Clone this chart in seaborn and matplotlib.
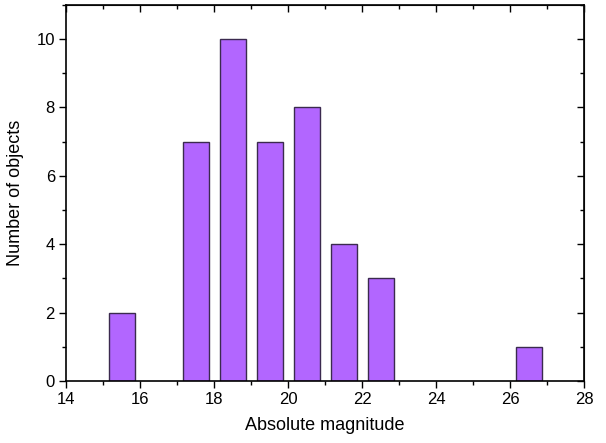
import matplotlib
matplotlib.use("Agg")
import matplotlib.pyplot as plt
import seaborn as sns
from matplotlib.ticker import MultipleLocator

# bin centres (absolute magnitude) and counts
magnitudes = [15.5, 17.5, 18.5, 19.5, 20.5, 21.5, 22.5, 26.5]
counts = [2, 7, 10, 7, 8, 4, 3, 1]

sns.set_style("ticks")
plt.rcParams["font.family"] = ["Liberation Sans", "DejaVu Sans"]
plt.rcParams["text.color"] = "black"
plt.rcParams["axes.labelcolor"] = "black"
plt.rcParams["xtick.color"] = "black"
plt.rcParams["ytick.color"] = "black"

fig, ax = plt.subplots(figsize=(6.06, 4.43), dpi=100)
sns.barplot(x=magnitudes, y=counts, native_scale=True, width=0.7,
            color="#B266FF", saturation=1, edgecolor="#3B2A4F", linewidth=1.0, ax=ax)

ax.set_xlim(14, 28)
ax.set_ylim(0, 11)
ax.xaxis.set_major_locator(MultipleLocator(2))
ax.xaxis.set_minor_locator(MultipleLocator(1))
ax.yaxis.set_major_locator(MultipleLocator(2))
ax.yaxis.set_minor_locator(MultipleLocator(1))
ax.tick_params(which="major", direction="out", length=5, width=1, labelsize=12, pad=3)
ax.tick_params(which="minor", direction="out", length=3, width=1)

# top/right ticks pointing inward, no labels
sec_x = ax.secondary_xaxis("top")
sec_x.xaxis.set_major_locator(MultipleLocator(2))
sec_x.xaxis.set_minor_locator(MultipleLocator(1))
sec_x.tick_params(which="major", direction="in", length=5, width=1, labeltop=False)
sec_x.tick_params(which="minor", direction="in", length=3, width=1)
sec_y = ax.secondary_yaxis("right")
sec_y.yaxis.set_major_locator(MultipleLocator(2))
sec_y.yaxis.set_minor_locator(MultipleLocator(1))
sec_y.tick_params(which="major", direction="in", length=5, width=1, labelright=False)
sec_y.tick_params(which="minor", direction="in", length=3, width=1)

for sp in ax.spines.values():
    sp.set_linewidth(1.2)
    sp.set_color("black")

ax.set_xlabel("Absolute magnitude", fontsize=13, labelpad=7)
ax.set_ylabel("Number of objects", fontsize=13, labelpad=9)

fig.subplots_adjust(left=0.109, right=0.964, top=0.989, bottom=0.14)
fig.savefig("out.png", dpi=100)
